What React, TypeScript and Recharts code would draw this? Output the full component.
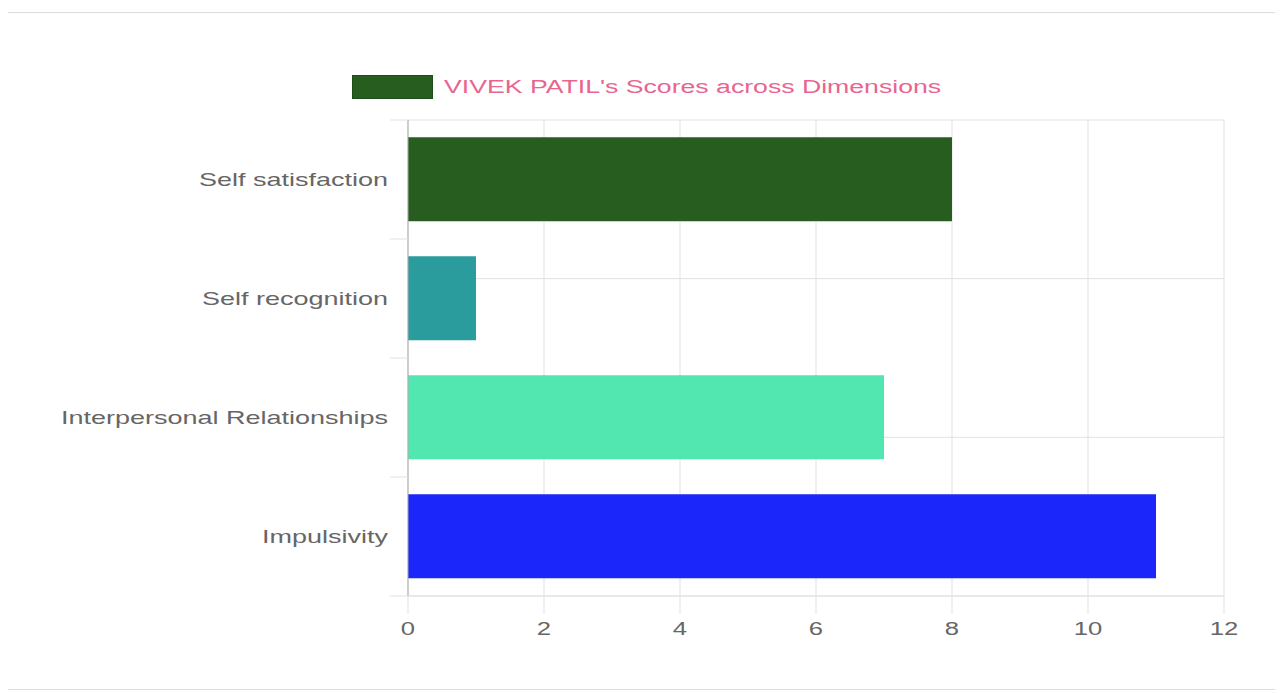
import React from "react";
import { BarChart, Bar, XAxis, YAxis, CartesianGrid, Legend, Cell } from "recharts";

const dimensions = [
  "Self satisfaction",
  "Self recognition",
  "Interpersonal Relationships",
  "Impulsivity",
];
const scores = [8, 1, 7, 11];
const barColors = ["#285d20", "#2b9c9e", "#52e6b0", "#1b26fb"];
const xTicks = [0, 2, 4, 6, 8, 10, 12];
const seriesName = "VIVEK PATIL's Scores across Dimensions";

const data = dimensions.map((name, i) => ({ name, score: scores[i] }));
// band edges for the category axis (grid lines sit between categories)
const bandEdges = [0, 1, 2, 3, 4];

const FONT = "'Liberation Sans', Arial, Helvetica, sans-serif";
const STRETCH = 1.5; // the source picture is stretched sideways
const GRID = "#e1e1e1";
const TICK = 18;
const GAP = 2;

// label in the middle of the band, tick mark on the band edges
const CategoryTick = (props: any) => {
  const { x, y, payload } = props;
  const half = payload.offset || 0;
  const last = payload.index === dimensions.length - 1;
  const x1 = x + GAP;
  return (
    <g>
      <line x1={x1} x2={x1 + TICK} y1={y - half} y2={y - half} stroke={GRID} />
      {last && <line x1={x1} x2={x1 + TICK} y1={y + half} y2={y + half} stroke={GRID} />}
      <text
        transform={`translate(${x},${y}) scale(${STRETCH},1)`}
        textAnchor="end"
        dy="0.36em"
        fill="#666"
        fontSize={18}
        fontFamily={FONT}
      >
        {payload.value}
      </text>
    </g>
  );
};

const ValueTick = (props: any) => {
  const { x, y, payload } = props;
  return (
    <text
      transform={`translate(${x},${y}) scale(1.35,1)`}
      textAnchor="middle"
      dy="0.71em"
      fill="#666"
      fontSize={19}
      fontFamily={FONT}
    >
      {payload.value}
    </text>
  );
};

const renderLegend = (props: any) => {
  const item = props.payload && props.payload[0];
  if (!item) return null;
  return (
    <div style={{ display: "flex", alignItems: "center" }}>
      <span
        style={{
          display: "inline-block",
          width: 81,
          height: 24,
          background: item.color,
          boxSizing: "border-box",
          border: "1px solid #1f4d19",
        }}
      />
      <span
        style={{
          display: "inline-block",
          marginLeft: 11,
          color: "#e8658f",
          fontSize: 18,
          fontFamily: FONT,
          transform: "scaleX(1.48)",
          transformOrigin: "left center",
          whiteSpace: "nowrap",
        }}
      >
        {item.value}
      </span>
    </div>
  );
};

export default function App() {
  return (
    <div style={{ position: "relative", width: 1283, height: 693, margin: "-8px 0 0 -8px" }}>
      <div
        style={{
          position: "absolute",
          left: 4,
          top: 12,
          width: 1274,
          height: 678,
          boxSizing: "border-box",
          border: "1px solid #dcdcdc",
          borderRadius: 4,
          background: "#fff",
        }}
      />
      <div style={{ position: "absolute", left: 0, top: 0 }}>
        <BarChart
          width={1283}
          height={693}
          data={data}
          layout="vertical"
          barCategoryGap="14.5%"
          margin={{ top: 120, right: 59, bottom: 57, left: 0 }}
        >
          <CartesianGrid stroke={GRID} yAxisId="edges" />
          <YAxis yAxisId="edges" type="number" domain={[0, 4]} ticks={bandEdges} hide />
          <YAxis
            yAxisId="cat"
            type="category"
            dataKey="name"
            width={408}
            tickSize={TICK}
            tickMargin={GAP}
            tickLine={false}
            axisLine={{ stroke: "#a9a9a9" }}
            tick={<CategoryTick />}
          />
          <XAxis
            type="number"
            domain={[0, 12]}
            ticks={xTicks}
            height={40}
            tickSize={TICK}
            tickMargin={8}
            tickLine={{ stroke: GRID }}
            axisLine={{ stroke: GRID }}
            tick={<ValueTick />}
          />
          <Legend
            verticalAlign="middle"
            align="center"
            layout="horizontal"
            wrapperStyle={{ top: 75, left: 352, width: "auto" }}
            content={renderLegend}
          />
          <Bar
            dataKey="score"
            name={seriesName}
            yAxisId="cat"
            fill={barColors[0]}
            isAnimationActive={false}
          >
            {data.map((d, i) => (
              <Cell key={d.name} fill={barColors[i]} />
            ))}
          </Bar>
        </BarChart>
      </div>
    </div>
  );
}
